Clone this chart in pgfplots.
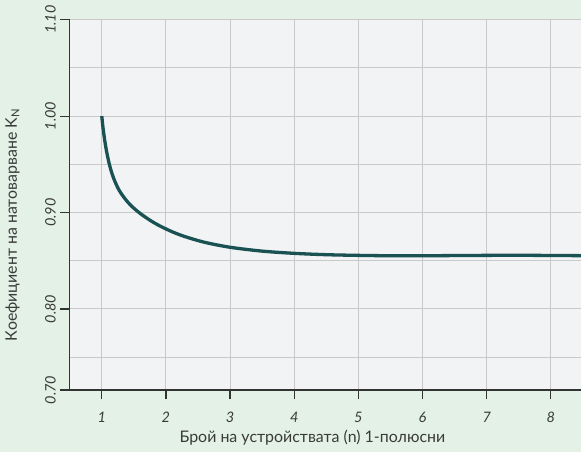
\documentclass[border=0pt]{standalone}
\usepackage{pgfplots}
\pgfplotsset{compat=1.18}
\usepackage{fontspec}
\setmainfont{Lato}
\definecolor{bgc}{HTML}{E3F1E6}
\definecolor{plotc}{HTML}{F1F3F4}
\definecolor{gridc}{HTML}{C9C9C9}
\definecolor{curvec}{HTML}{1A5153}
\definecolor{txtc}{HTML}{3A3A3A}
\definecolor{axc}{HTML}{333333}
\begin{document}
\begin{tikzpicture}[x=1bp,y=1bp]
\fill[bgc] (0,0) rectangle (581,452);
\begin{axis}[
  at={(69.7bp,62bp)}, anchor=south west,
  scale only axis, width=511.3bp, height=370.3bp,
  xmin=0.5, xmax=8.47, ymin=0.716, ymax=1.10,
  axis x line*=bottom, axis y line*=left,
  axis line style={-, color=axc, line width=1.3bp},
  axis background/.style={fill=plotc},
  xtick={1,2,3,4,5,6,7,8},
  ytick={0.716,0.8,0.9,1.0,1.1},
  yticklabels={0.70,0.80,0.90,1.00,1.10},
  minor ytick={0.75,0.85,0.95,1.05},
  xmajorgrids, ymajorgrids, yminorgrids,
  grid style={color=gridc, line width=1bp},
  minor grid style={color=gridc, line width=1bp},
  tick align=outside, major tick length=9.5bp, minor tick length=0pt,
  tick style={color=axc, line width=1.2bp},
  /pgf/number format/assume math mode=true,
  ticklabel style={font=\fontsize{14.5}{16}\selectfont\itshape, text=txtc},
  yticklabel style={rotate=90, anchor=south, yshift=1bp},
  xticklabel style={yshift=-9bp},
  ytick pos=left, xtick pos=bottom,
  xlabel={Брой на устройствата (n) 1-полюсни},
  ylabel={Коефициент на натоварване K\textsubscript{N}},
  label style={font=\fontsize{16}{18}\selectfont, text=txtc},
  xlabel style={yshift=-1bp, xshift=-13bp},
  ylabel style={at={(axis description cs:-0.112,0.446)}, anchor=center},
  clip=true,
]
\addplot[curvec, line width=3.3bp, smooth, tension=0.5] coordinates {
(1,1.000) (1.02,0.9875) (1.05,0.9731) (1.08,0.9616) (1.12,0.9495) (1.16,0.9403) (1.2,0.9330) (1.25,0.9257) (1.3,0.9200) (1.4,0.9112) (1.5,0.9045) (1.6,0.8990) (1.75,0.8921) (1.9,0.8863) (2.1,0.8800) (2.3,0.8750) (2.6,0.8692) (3.0,0.8640) (3.5,0.8600) (4,0.8577) (4.5,0.8563) (5,0.8556) (5.5,0.8552) (6,0.8552) (6.5,0.8554) (7,0.8556) (7.5,0.8557) (8,0.8555) (8.47,0.8553)
};
\end{axis}
\pgfresetboundingbox
\path[use as bounding box] (0,0) rectangle (581,452);
\end{tikzpicture}
\end{document}
